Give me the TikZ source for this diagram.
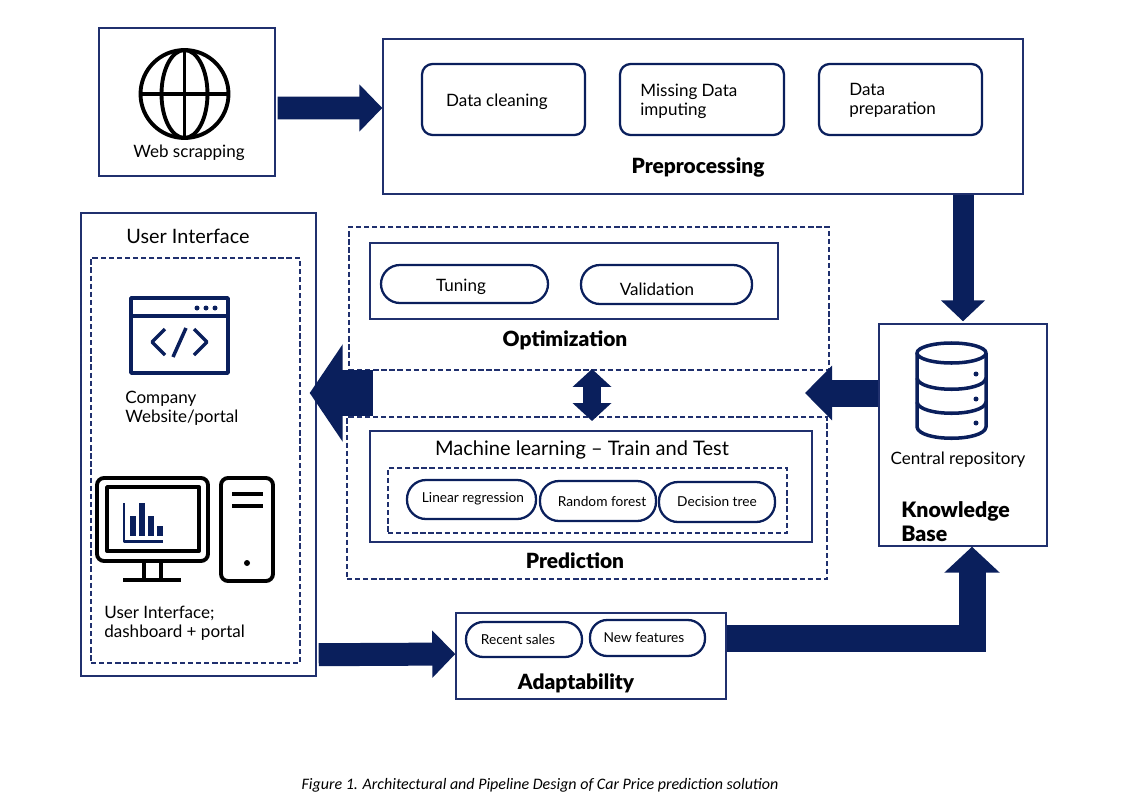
\documentclass[tikz,border=0pt]{standalone}
\usepackage{fontspec}
\setmainfont{Lato}
\newfontfamily\captionfont{Carlito}
\newfontfamily\heavyfont{Lato Black}
\usepackage{tikz}
\usetikzlibrary{fit,arrows.meta}
\definecolor{pNavy}{RGB}{10,31,92}
\definecolor{pEdge}{RGB}{32,48,110}
\tikzset{
  box/.style={draw=pEdge,line width=0.8pt,inner sep=0pt},
  dashbox/.style={draw=pEdge,line width=0.7pt,dash pattern=on 3pt off 1.6pt,inner sep=0pt},
  pill/.style={draw=pNavy,line width=1.3pt,inner sep=0pt,rounded corners=9.8pt},
  softbox/.style={draw=pNavy,line width=1.3pt,inner sep=0pt,rounded corners=6pt},
  txt/.style={inner sep=0pt,yshift=-0.04cm,align=left,font=\fontsize{9.7}{10.8}\selectfont},
  small/.style={inner sep=0pt,yshift=-0.04cm,font=\fontsize{7.8}{9}\selectfont},
  head/.style={inner sep=0pt,yshift=-0.02cm,font=\fontsize{11.9}{13}\heavyfont},
  icon/.style={line width=2.2pt,line join=round},
  navyicon/.style={draw=pNavy,line width=2pt,line join=round},
  fat/.style n args={3}{draw=pNavy,line width=#1cm,-{Triangle[length=#2cm,width=#3cm,fill=pNavy]}},
}
\begin{document}
\begin{tikzpicture}[x=0.02cm,y=-0.02cm]
\useasboundingbox (0,0) rectangle (1129,811);
% boxes
\node[box,fit={(99,28) (275,176)}] (web) {};
\node[box,fit={(383,39) (1023,194)}] (pre) {};
\node[box,fit={(879,324) (1047,546)}] (kb) {};
\node[box,fit={(81,213) (316,676)}] (ui) {};
\node[dashbox,fit={(91,258) (300,663)}] (uiin) {};
\node[dashbox,fit={(349,227) (829,370)}] (opt) {};
\node[dashbox,fit={(347,417) (827,579)}] (pred) {};
\node[box,fit={(370,243) (778,319)}] (optin) {};
\node[box,fit={(370,431) (812,542)}] (ml) {};
\node[dashbox,fit={(388,468) (787,533)}] (models) {};
\node[box,fit={(456,613) (726,699)}] (adapt) {};
% preprocessing
\node[softbox,fit={(422,64) (585,135)}] (clean) {};
\node[softbox,fit={(620,64) (784,135)}] (missing) {};
\node[softbox,fit={(819,64) (982,135)}] (prep) {};
\node[txt] (cleant) at (497,100) {Data cleaning};
\node[txt,anchor=west] (missingt) at (640,99.5) {Missing Data\\imputing};
\node[txt,anchor=west] (prept) at (849,98.5) {Data\\preparation};
\node[head] (pret) at (698,167) {Preprocessing};
% optimization
\node[pill,rounded corners=10.8pt,fit={(381,265) (548,303)}] (tuning) {};
\node[pill,rounded corners=10.8pt,fit={(581,265) (752,304)}] (valid) {};
\node[txt] (tuningt) at (461,285) {Tuning};
\node[txt] (validt) at (657,287) {Validation};
\node[head] (optt) at (565,339) {Optimization};
% prediction
\node[inner sep=0pt,yshift=-0.04cm,font=\fontsize{11.4}{13}\selectfont] (mlt) at (582,448) {Machine learning -- Train and Test};
\node[pill,rounded corners=10.8pt,fit={(407,480) (536,519)}] (linear) {};
\node[pill,rounded corners=10.8pt,fit={(540,481) (656,521)}] (forest) {};
\node[pill,rounded corners=10.8pt,fit={(659,482) (775,522)}] (tree) {};
\node[small] (lineart) at (473,497) {Linear regression};
\node[small] (forestt) at (602,499.5) {Random forest};
\node[small] (treet) at (717,500) {Decision tree};
\node[head] (predt) at (575,560) {Prediction};
% adaptability
\node[pill,fit={(466,622) (582,657)}] (sales) {};
\node[pill,fit={(590,620) (705,656)}] (features) {};
\node[small] (salest) at (518,638) {Recent sales};
\node[small] (featurest) at (644,636) {New features};
\node[head] (adaptt) at (576,682) {Adaptability};
% other labels
\node[txt] (webt) at (189,151) {Web scrapping};
\node[inner sep=0pt,font=\fontsize{11.3}{12}\selectfont] (uit) at (188,236) {User Interface};
\node[txt,anchor=west] (sitet) at (125,406) {Company\\Website/portal};
\node[txt,anchor=west] (dasht) at (104,621.5) {User Interface;\\dashboard + portal};
\node[txt] (repot) at (958,458) {Central repository};
\node[head,anchor=west,align=left,font=\fontsize{12.1}{13.6}\heavyfont] (kbt) at (901,521) {Knowledge\\Base};
\node[inner sep=0pt,yshift=-0.04cm,font=\fontsize{9.1}{10}\captionfont\itshape] (caption) at (540,783) {Figure 1. Architectural and Pipeline Design of Car Price prediction solution};
% globe
\draw[icon] (184.5,94) circle [radius=0.88cm];
\draw[icon] (184.5,94) ellipse [x radius=0.46cm,y radius=0.88cm];
\draw[icon] (184.5,50) -- (184.5,138);
\draw[icon] (140.5,94) -- (228.5,94);
% window
\draw[navyicon] (131,298) rectangle (228,373);
\draw[navyicon] (131,316) -- (228,316);
\foreach \x in {197,206,215}
  \fill[pNavy] (\x,308) circle [radius=0.05cm];
\draw[navyicon] (165,329) -- (152,342) -- (165,355);
\draw[navyicon] (194,329) -- (207,342) -- (194,355);
\draw[navyicon] (186,328) -- (173,357);
% monitor and tower
\draw[icon,rounded corners=4pt] (97,478) rectangle (208,561);
\draw[icon] (107,487) rectangle (199,551);
\draw[icon] (144,561) -- (144,580);
\draw[icon] (161,561) -- (161,580);
\draw[icon] (123,580) -- (181,580);
\draw[icon,rounded corners=4pt] (221,478) rectangle (273,581);
\draw[icon] (232,494) -- (263,494);
\draw[icon] (232,506) -- (263,506);
\fill (247,563) circle [radius=0.06cm];
\draw[navyicon,line width=1.2pt] (124,503) -- (124,541.5) -- (163,541.5);
\fill[pNavy] (130,516) rectangle (136,536);
\fill[pNavy] (139,503) rectangle (145,536);
\fill[pNavy] (148,516) rectangle (154,536);
\fill[pNavy] (157,526) rectangle (163,536);
% database
\draw[navyicon] (951.5,353) ellipse [x radius=0.69cm,y radius=0.2cm];
\draw[navyicon] (917,353) -- (917,427) .. controls (919,442) and (984,442) .. (986,427) -- (986,353);
\draw[navyicon] (917,378) .. controls (919,393) and (984,393) .. (986,378);
\draw[navyicon] (917,402) .. controls (919,417) and (984,417) .. (986,402);
\foreach \y in {374,399,423}
  \fill[pNavy] (976,\y) circle [radius=0.05cm];
% connectors
\coordinate (gapright) at (805,393);
\coordinate (gapleft) at (373,393);
\coordinate (optlow) at (592,369);
\coordinate (predtop) at (592,421);
\draw[fat={0.46}{0.46}{0.92}] ([xshift=0.04cm,yshift=-0.12cm]web.east) -- ([yshift=0.17cm]pre.west);
\draw[fat={0.42}{0.42}{0.86}] (pre.south -| kb.north) -- ([yshift=0.04cm]kb.north);
\draw[fat={0.54}{0.54}{1.06}] (kb.west |- gapright) -- (gapright);
\draw[fat={0.94}{0.66}{1.92}] (gapleft) -- ([xshift=-0.14cm]ui.east |- gapleft);
\draw[fat={0.36}{0.36}{0.76},{Triangle[length=0.36cm,width=0.76cm,fill=pNavy]}-{Triangle[length=0.36cm,width=0.76cm,fill=pNavy]}] (optlow) -- (predtop);
\draw[fat={0.46}{0.46}{0.92}] ([xshift=0.04cm,yshift=0.44cm]ui.south east) -- ([yshift=0.04cm]adapt.west);
\draw[fat={0.54}{0.52}{1.08}] ([yshift=0.36cm]adapt.east) -| ([xshift=0.18cm]kb.south);
\end{tikzpicture}
\end{document}
